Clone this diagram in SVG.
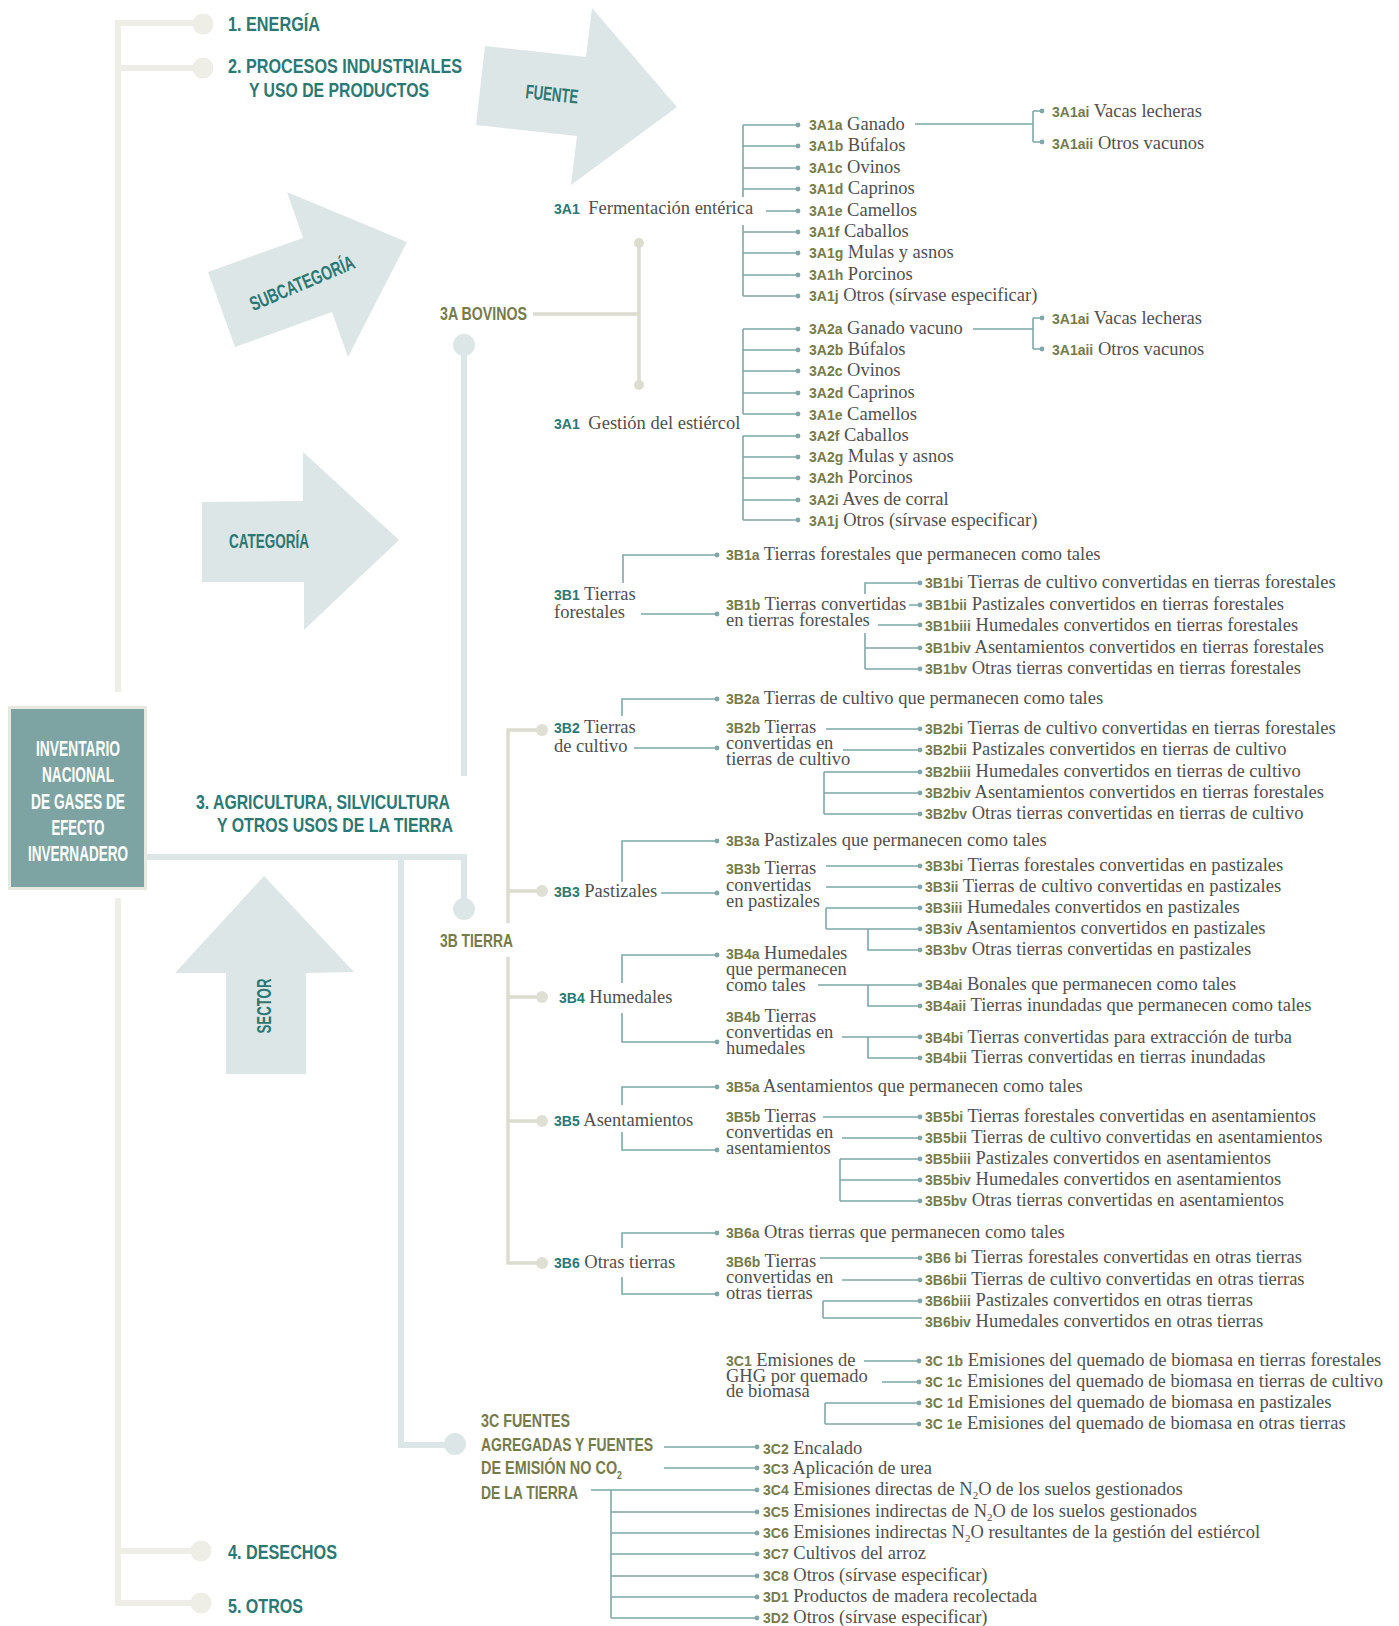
<svg xmlns="http://www.w3.org/2000/svg" width="1399" height="1626" viewBox="0 0 1399 1626">
<style>
.hd{font-family:'Liberation Sans Narrow','Liberation Sans',Arial,sans-serif;font-weight:bold;font-stretch:condensed}
.tl{fill:#2b7874}
.ol{fill:#767b4b}
.wh{fill:#ffffff}
.sr{font-family:'Liberation Serif','Times New Roman',serif;font-size:18.5px;fill:#505050}
.cd{font-family:'Liberation Sans',Arial,sans-serif;font-weight:bold;font-size:14px}
.k{stroke:#7fa7a8;stroke-width:1.6;fill:none}
.dt{fill:#7fa7a8}
.arw{fill:#dde6e6}
.spine{stroke:#eeeee7;stroke-width:6;fill:none}
.sec{stroke:#dde6e6;stroke-width:6;fill:none}
.bg{stroke:#dcdccf;stroke-width:3.5;fill:none}
</style>

<!-- arrows -->
<g id="arrow-fuente">
<polygon class="arw" points="485,46 586,57 592,8 677,107 571,185 577,136 476,125"/>
<text class="hd tl" font-size="20" transform="translate(552,94) rotate(6)" x="0" y="7" text-anchor="middle" textLength="53" lengthAdjust="spacingAndGlyphs">FUENTE</text>
</g>
<g id="arrow-subcategoria">
<polygon class="arw" points="208,272 303,238 287,192 407,242 348,357 332,312 235,347"/>
<text class="hd tl" font-size="20" transform="translate(302,283) rotate(-23)" x="0" y="7" text-anchor="middle" textLength="112" lengthAdjust="spacingAndGlyphs">SUBCATEGORÍA</text>
</g>
<g id="arrow-categoria">
<polygon class="arw" points="202,502 303,501 303,452 399,540 304,630 304,582 202,582"/>
<text class="hd tl" font-size="20" x="229" y="548" textLength="80" lengthAdjust="spacingAndGlyphs">CATEGORÍA</text>
</g>
<g id="arrow-sector">
<polygon class="arw" points="264,876 354,972 306,973 306,1074 226,1074 226,973 175,973"/>
<text class="hd tl" font-size="20" transform="translate(264,1006) rotate(-90)" x="0" y="7" text-anchor="middle" textLength="55" lengthAdjust="spacingAndGlyphs">SECTOR</text>
</g>

<!-- connectors -->
<g id="connectors">
<path class="spine" d="M203,23 H118 V692 M118,898 V1603 H201 M118,68 H203 M118,1551 H201"/>
<path class="sec" d="M147,857 H464 V909 M401,857 V1445 H455 M464,345 V776"/>
<path class="bg" d="M639,243 V385 M533,314 H639"/>
<path class="bg" d="M542,730 H508 V923 M508,957 V1263 H542 M508,891 H542 M508,997 H542 M508,1121 H542"/>

<path class="k" d="M743,125 V197 M743,125 H798 M743,146 H798 M743,168 H798 M743,189 H798 M766,211 H798 M743,225 V296 M743,232 H798 M743,253 H798 M743,275 H798 M743,296 H798"/>
<path class="k" d="M915,124 H1033 M1033,111 V142 M1033,111 H1042 M1033,142 H1042"/>
<path class="k" d="M743,329 V414 M743,329 H798 M743,350 H798 M743,371 H798 M743,393 H798 M743,414 H798 M743,436 V520 M743,436 H798 M743,457 H798 M743,478 H798 M743,500 H798 M743,520 H798"/>
<path class="k" d="M973,329 H1033 M1033,318 V349 M1033,318 H1042 M1033,349 H1042"/>
<path class="k" d="M623,583 V555 H717 M641,614 H717 M865,594 V583 H920 M909,605 H920 M878,625 H920 M865,633 V669 M865,648 H920 M865,669 H920"/>
<path class="k" d="M622,716 V699 H717 M634,748 H717 M826,729 H920 M843,750 H920 M824,772 V814 M824,772 H920 M824,793 H920 M824,814 H920"/>
<path class="k" d="M622,882 V841 H717 M661,893 H717 M826,866 H920 M826,887 H920 M826,908 V929 M826,908 H920 M826,929 H920 M868,929 V950 H920"/>
<path class="k" d="M622,983 V955 H717 M622,1013 V1042 H717 M818,985 H920 M868,985 V1006 H920 M842,1037 H920 M868,1037 V1058 H920"/>
<path class="k" d="M622,1105 V1087 H717 M622,1132 V1150 H717 M823,1117 H920 M842,1138 H920 M840,1159 V1201 M840,1159 H920 M840,1180 H920 M840,1201 H920"/>
<path class="k" d="M622,1248 V1233 H717 M622,1277 V1294 H717 M820,1258 H920 M842,1280 H920 M823,1301 V1318 M823,1301 H920 M823,1318 H922"/>
<path class="k" d="M864,1361 H919 M882,1382 H919 M825,1403 V1424 M825,1403 H919 M825,1424 H919"/>
<path class="k" d="M664,1447 H757 M664,1468 H757 M591,1490 H757 M611,1490 V1618 M611,1512 H757 M611,1533 H757 M611,1554 H757 M611,1576 H757 M611,1597 H757 M611,1618 H757"/>

<g class="dt">
<circle cx="798" cy="125" r="2.4"/><circle cx="798" cy="146" r="2.4"/><circle cx="798" cy="168" r="2.4"/><circle cx="798" cy="189" r="2.4"/><circle cx="798" cy="211" r="2.4"/><circle cx="798" cy="232" r="2.4"/><circle cx="798" cy="253" r="2.4"/><circle cx="798" cy="275" r="2.4"/><circle cx="798" cy="296" r="2.4"/>
<circle cx="1042" cy="111" r="2.4"/><circle cx="1042" cy="142" r="2.4"/><circle cx="1042" cy="318" r="2.4"/><circle cx="1042" cy="349" r="2.4"/>
<circle cx="798" cy="329" r="2.4"/><circle cx="798" cy="350" r="2.4"/><circle cx="798" cy="371" r="2.4"/><circle cx="798" cy="393" r="2.4"/><circle cx="798" cy="414" r="2.4"/><circle cx="798" cy="436" r="2.4"/><circle cx="798" cy="457" r="2.4"/><circle cx="798" cy="478" r="2.4"/><circle cx="798" cy="500" r="2.4"/><circle cx="798" cy="520" r="2.4"/>
<circle cx="717" cy="555" r="2.4"/><circle cx="717" cy="614" r="2.4"/><circle cx="920" cy="583" r="2.4"/><circle cx="920" cy="605" r="2.4"/><circle cx="920" cy="625" r="2.4"/><circle cx="920" cy="648" r="2.4"/><circle cx="920" cy="669" r="2.4"/>
<circle cx="717" cy="699" r="2.4"/><circle cx="717" cy="748" r="2.4"/><circle cx="920" cy="729" r="2.4"/><circle cx="920" cy="750" r="2.4"/><circle cx="920" cy="772" r="2.4"/><circle cx="920" cy="793" r="2.4"/><circle cx="920" cy="814" r="2.4"/>
<circle cx="717" cy="841" r="2.4"/><circle cx="717" cy="893" r="2.4"/><circle cx="920" cy="866" r="2.4"/><circle cx="920" cy="887" r="2.4"/><circle cx="920" cy="908" r="2.4"/><circle cx="920" cy="929" r="2.4"/><circle cx="920" cy="950" r="2.4"/>
<circle cx="717" cy="955" r="2.4"/><circle cx="717" cy="1042" r="2.4"/><circle cx="920" cy="985" r="2.4"/><circle cx="920" cy="1006" r="2.4"/><circle cx="920" cy="1037" r="2.4"/><circle cx="920" cy="1058" r="2.4"/>
<circle cx="717" cy="1087" r="2.4"/><circle cx="717" cy="1150" r="2.4"/><circle cx="920" cy="1117" r="2.4"/><circle cx="920" cy="1138" r="2.4"/><circle cx="920" cy="1159" r="2.4"/><circle cx="920" cy="1180" r="2.4"/><circle cx="920" cy="1201" r="2.4"/>
<circle cx="717" cy="1233" r="2.4"/><circle cx="717" cy="1294" r="2.4"/><circle cx="920" cy="1258" r="2.4"/><circle cx="920" cy="1280" r="2.4"/><circle cx="920" cy="1301" r="2.4"/>
<circle cx="919" cy="1361" r="2.4"/><circle cx="919" cy="1382" r="2.4"/><circle cx="919" cy="1403" r="2.4"/><circle cx="919" cy="1424" r="2.4"/>
<circle cx="757" cy="1447" r="2.4"/><circle cx="757" cy="1468" r="2.4"/><circle cx="757" cy="1490" r="2.4"/><circle cx="757" cy="1512" r="2.4"/><circle cx="757" cy="1533" r="2.4"/><circle cx="757" cy="1554" r="2.4"/><circle cx="757" cy="1576" r="2.4"/><circle cx="757" cy="1597" r="2.4"/><circle cx="757" cy="1618" r="2.4"/>
</g>
</g>

<!-- root -->
<g id="node-inventario">
<rect x="8" y="706" width="139" height="184" fill="#e7e8df"/>
<rect x="11" y="709" width="133" height="178" fill="#7ea3a3"/>
<g class="hd wh" font-size="22" text-anchor="middle">
<text x="78" y="756" textLength="84" lengthAdjust="spacingAndGlyphs">INVENTARIO</text>
<text x="78" y="782" textLength="72" lengthAdjust="spacingAndGlyphs">NACIONAL</text>
<text x="78" y="809" textLength="94" lengthAdjust="spacingAndGlyphs">DE GASES DE</text>
<text x="78" y="835" textLength="53" lengthAdjust="spacingAndGlyphs">EFECTO</text>
<text x="78" y="861" textLength="100" lengthAdjust="spacingAndGlyphs">INVERNADERO</text>
</g>
</g>

<!-- sectors -->
<g id="node-energia">
<circle cx="203" cy="24" r="10.5" fill="#eeeee7"/>
<text class="hd tl" font-size="20" x="228" y="31" textLength="92" lengthAdjust="spacingAndGlyphs">1. ENERGÍA</text>
</g>
<g id="node-procesos">
<circle cx="203" cy="68" r="10.5" fill="#eeeee7"/>
<text class="hd tl" font-size="20" x="228" y="73" textLength="234" lengthAdjust="spacingAndGlyphs">2. PROCESOS INDUSTRIALES</text>
<text class="hd tl" font-size="20" x="249" y="97" textLength="180" lengthAdjust="spacingAndGlyphs">Y USO DE PRODUCTOS</text>
</g>
<g id="node-agricultura">
<text class="hd tl" font-size="20" x="196" y="809" textLength="254" lengthAdjust="spacingAndGlyphs">3. AGRICULTURA, SILVICULTURA</text>
<text class="hd tl" font-size="20" x="217" y="832" textLength="236" lengthAdjust="spacingAndGlyphs">Y OTROS USOS DE LA TIERRA</text>
</g>
<g id="node-desechos">
<circle cx="201" cy="1551" r="10.5" fill="#eeeee7"/>
<text class="hd tl" font-size="20" x="228" y="1559" textLength="109" lengthAdjust="spacingAndGlyphs">4. DESECHOS</text>
</g>
<g id="node-otros">
<circle cx="201" cy="1603" r="10.5" fill="#eeeee7"/>
<text class="hd tl" font-size="20" x="228" y="1613" textLength="75" lengthAdjust="spacingAndGlyphs">5. OTROS</text>
</g>

<!-- categories -->
<g id="node-3a">
<circle cx="464" cy="345" r="11" fill="#dde6e6"/>
<circle cx="639" cy="243" r="5" fill="#dcdccf"/>
<circle cx="639" cy="385" r="5" fill="#dcdccf"/>
<text class="hd ol" font-size="19" x="440" y="320" textLength="87" lengthAdjust="spacingAndGlyphs">3A BOVINOS</text>
</g>
<g id="node-3b">
<circle cx="464" cy="909" r="11" fill="#dde6e6"/>
<text class="hd ol" font-size="19" x="440" y="947" textLength="73" lengthAdjust="spacingAndGlyphs">3B TIERRA</text>
<g fill="#dfdfd4"><circle cx="542" cy="730" r="6"/><circle cx="542" cy="891" r="6"/><circle cx="542" cy="997" r="6"/><circle cx="542" cy="1121" r="6"/><circle cx="542" cy="1263" r="6"/></g>
</g>
<g id="node-3c">
<circle cx="455" cy="1444" r="11" fill="#dde6e6"/>
<text class="hd ol" font-size="18" x="481" y="1427" textLength="89" lengthAdjust="spacingAndGlyphs">3C FUENTES</text>
<text class="hd ol" font-size="18" x="481" y="1451" textLength="172" lengthAdjust="spacingAndGlyphs">AGREGADAS Y FUENTES</text>
<text class="hd ol" font-size="18" x="481" y="1474" textLength="141" lengthAdjust="spacingAndGlyphs">DE EMISIÓN NO CO<tspan font-size="11" dy="5">2</tspan></text>
<text class="hd ol" font-size="18" x="481" y="1499" textLength="97" lengthAdjust="spacingAndGlyphs">DE LA TIERRA</text>
</g>

<!-- 3A subcategories -->
<g id="node-3a1-fermentacion"><text class="sr" x="554" y="214"><tspan class="cd tl">3A1</tspan><tspan dx="4"> Fermentación entérica</tspan></text></g>
<g id="node-3a1-gestion"><text class="sr" x="554" y="429"><tspan class="cd tl">3A1</tspan><tspan dx="4"> Gestión del estiércol</tspan></text></g>

<g id="node-3a1-items" class="sr">
<text x="809" y="130"><tspan class="cd ol">3A1a</tspan> Ganado</text>
<text x="809" y="151"><tspan class="cd ol">3A1b</tspan> Búfalos</text>
<text x="809" y="173"><tspan class="cd ol">3A1c</tspan> Ovinos</text>
<text x="809" y="194"><tspan class="cd ol">3A1d</tspan> Caprinos</text>
<text x="809" y="216"><tspan class="cd ol">3A1e</tspan> Camellos</text>
<text x="809" y="237"><tspan class="cd ol">3A1f</tspan> Caballos</text>
<text x="809" y="258"><tspan class="cd ol">3A1g</tspan> Mulas y asnos</text>
<text x="809" y="280"><tspan class="cd ol">3A1h</tspan> Porcinos</text>
<text x="809" y="301"><tspan class="cd ol">3A1j</tspan> Otros (sírvase especificar)</text>
<text x="1052" y="117"><tspan class="cd ol">3A1ai</tspan> Vacas lecheras</text>
<text x="1052" y="149"><tspan class="cd ol">3A1aii</tspan> Otros vacunos</text>
</g>
<g id="node-3a2-items" class="sr">
<text x="809" y="334"><tspan class="cd ol">3A2a</tspan> Ganado vacuno</text>
<text x="809" y="355"><tspan class="cd ol">3A2b</tspan> Búfalos</text>
<text x="809" y="376"><tspan class="cd ol">3A2c</tspan> Ovinos</text>
<text x="809" y="398"><tspan class="cd ol">3A2d</tspan> Caprinos</text>
<text x="809" y="420"><tspan class="cd ol">3A1e</tspan> Camellos</text>
<text x="809" y="441"><tspan class="cd ol">3A2f</tspan> Caballos</text>
<text x="809" y="462"><tspan class="cd ol">3A2g</tspan> Mulas y asnos</text>
<text x="809" y="483"><tspan class="cd ol">3A2h</tspan> Porcinos</text>
<text x="809" y="505"><tspan class="cd ol">3A2i</tspan> Aves de corral</text>
<text x="809" y="526"><tspan class="cd ol">3A1j</tspan> Otros (sírvase especificar)</text>
<text x="1052" y="324"><tspan class="cd ol">3A1ai</tspan> Vacas lecheras</text>
<text x="1052" y="355"><tspan class="cd ol">3A1aii</tspan> Otros vacunos</text>
</g>

<!-- 3B1 -->
<g id="node-3b1" class="sr">
<text x="554" y="600"><tspan class="cd tl">3B1</tspan> Tierras<tspan x="554" dy="18">forestales</tspan></text>
<text x="726" y="560"><tspan class="cd ol">3B1a</tspan> Tierras forestales que permanecen como tales</text>
<text x="726" y="610"><tspan class="cd ol">3B1b</tspan> Tierras convertidas<tspan x="726" dy="16">en tierras forestales</tspan></text>
<text x="925" y="588"><tspan class="cd ol">3B1bi</tspan> Tierras de cultivo convertidas en tierras forestales</text>
<text x="925" y="610"><tspan class="cd ol">3B1bii</tspan> Pastizales convertidos en tierras forestales</text>
<text x="925" y="631"><tspan class="cd ol">3B1biii</tspan> Humedales convertidos en tierras forestales</text>
<text x="925" y="653"><tspan class="cd ol">3B1biv</tspan> Asentamientos convertidos en tierras forestales</text>
<text x="925" y="674"><tspan class="cd ol">3B1bv</tspan> Otras tierras convertidas en tierras forestales</text>
</g>
<!-- 3B2 -->
<g id="node-3b2" class="sr">
<text x="554" y="733"><tspan class="cd tl">3B2</tspan> Tierras<tspan x="554" dy="19">de cultivo</tspan></text>
<text x="726" y="704"><tspan class="cd ol">3B2a</tspan> Tierras de cultivo que permanecen como tales</text>
<text x="726" y="733"><tspan class="cd ol">3B2b</tspan> Tierras<tspan x="726" dy="16">convertidas en</tspan><tspan x="726" dy="16">tierras de cultivo</tspan></text>
<text x="925" y="734"><tspan class="cd ol">3B2bi</tspan> Tierras de cultivo convertidas en tierras forestales</text>
<text x="925" y="755"><tspan class="cd ol">3B2bii</tspan> Pastizales convertidos en tierras de cultivo</text>
<text x="925" y="777"><tspan class="cd ol">3B2biii</tspan> Humedales convertidos en tierras de cultivo</text>
<text x="925" y="798"><tspan class="cd ol">3B2biv</tspan> Asentamientos convertidos en tierras forestales</text>
<text x="925" y="819"><tspan class="cd ol">3B2bv</tspan> Otras tierras convertidas en tierras de cultivo</text>
</g>
<!-- 3B3 -->
<g id="node-3b3" class="sr">
<text x="554" y="897"><tspan class="cd tl">3B3</tspan> Pastizales</text>
<text x="726" y="846"><tspan class="cd ol">3B3a</tspan> Pastizales que permanecen como tales</text>
<text x="726" y="874"><tspan class="cd ol">3B3b</tspan> Tierras<tspan x="726" dy="17">convertidas</tspan><tspan x="726" dy="16">en pastizales</tspan></text>
<text x="925" y="871"><tspan class="cd ol">3B3bi</tspan> Tierras forestales convertidas en pastizales</text>
<text x="925" y="892"><tspan class="cd ol">3B3ii</tspan> Tierras de cultivo convertidas en pastizales</text>
<text x="925" y="913"><tspan class="cd ol">3B3iii</tspan> Humedales convertidos en pastizales</text>
<text x="925" y="934"><tspan class="cd ol">3B3iv</tspan> Asentamientos convertidos en pastizales</text>
<text x="925" y="955"><tspan class="cd ol">3B3bv</tspan> Otras tierras convertidas en pastizales</text>
</g>
<!-- 3B4 -->
<g id="node-3b4" class="sr">
<text x="559" y="1003"><tspan class="cd tl">3B4</tspan> Humedales</text>
<text x="726" y="959"><tspan class="cd ol">3B4a</tspan> Humedales<tspan x="726" dy="16">que permanecen</tspan><tspan x="726" dy="16">como tales</tspan></text>
<text x="726" y="1022"><tspan class="cd ol">3B4b</tspan> Tierras<tspan x="726" dy="16">convertidas en</tspan><tspan x="726" dy="16">humedales</tspan></text>
<text x="925" y="990"><tspan class="cd ol">3B4ai</tspan> Bonales que permanecen como tales</text>
<text x="925" y="1011"><tspan class="cd ol">3B4aii</tspan> Tierras inundadas que permanecen como tales</text>
<text x="925" y="1043"><tspan class="cd ol">3B4bi</tspan> Tierras convertidas para extracción de turba</text>
<text x="925" y="1063"><tspan class="cd ol">3B4bii</tspan> Tierras convertidas en tierras inundadas</text>
</g>
<!-- 3B5 -->
<g id="node-3b5" class="sr">
<text x="554" y="1126"><tspan class="cd tl">3B5</tspan> Asentamientos</text>
<text x="726" y="1092"><tspan class="cd ol">3B5a</tspan> Asentamientos que permanecen como tales</text>
<text x="726" y="1122"><tspan class="cd ol">3B5b</tspan> Tierras<tspan x="726" dy="16">convertidas en</tspan><tspan x="726" dy="16">asentamientos</tspan></text>
<text x="925" y="1122"><tspan class="cd ol">3B5bi</tspan> Tierras forestales convertidas en asentamientos</text>
<text x="925" y="1143"><tspan class="cd ol">3B5bii</tspan> Tierras de cultivo convertidas en asentamientos</text>
<text x="925" y="1164"><tspan class="cd ol">3B5biii</tspan> Pastizales convertidos en asentamientos</text>
<text x="925" y="1185"><tspan class="cd ol">3B5biv</tspan> Humedales convertidos en asentamientos</text>
<text x="925" y="1206"><tspan class="cd ol">3B5bv</tspan> Otras tierras convertidas en asentamientos</text>
</g>
<!-- 3B6 -->
<g id="node-3b6" class="sr">
<text x="554" y="1268"><tspan class="cd tl">3B6</tspan> Otras tierras</text>
<text x="726" y="1238"><tspan class="cd ol">3B6a</tspan> Otras tierras que permanecen como tales</text>
<text x="726" y="1267"><tspan class="cd ol">3B6b</tspan> Tierras<tspan x="726" dy="16">convertidas en</tspan><tspan x="726" dy="16">otras tierras</tspan></text>
<text x="925" y="1263"><tspan class="cd ol">3B6 bi</tspan> Tierras forestales convertidas en otras tierras</text>
<text x="925" y="1285"><tspan class="cd ol">3B6bii</tspan> Tierras de cultivo convertidas en otras tierras</text>
<text x="925" y="1306"><tspan class="cd ol">3B6biii</tspan> Pastizales convertidos en otras tierras</text>
<text x="925" y="1327"><tspan class="cd ol">3B6biv</tspan> Humedales convertidos en otras tierras</text>
</g>
<!-- 3C -->
<g id="node-3c1" class="sr">
<text x="726" y="1366"><tspan class="cd ol">3C1</tspan> Emisiones de<tspan x="726" dy="16">GHG por quemado</tspan><tspan x="726" dy="15">de biomasa</tspan></text>
<text x="925" y="1366"><tspan class="cd ol">3C 1b</tspan> Emisiones del quemado de biomasa en tierras forestales</text>
<text x="925" y="1387"><tspan class="cd ol">3C 1c</tspan> Emisiones del quemado de biomasa en tierras de cultivo</text>
<text x="925" y="1408"><tspan class="cd ol">3C 1d</tspan> Emisiones del quemado de biomasa en pastizales</text>
<text x="925" y="1429"><tspan class="cd ol">3C 1e</tspan> Emisiones del quemado de biomasa en otras tierras</text>
</g>
<g id="node-3c-items" class="sr">
<text x="763" y="1454"><tspan class="cd ol">3C2</tspan> Encalado</text>
<text x="763" y="1474"><tspan class="cd ol">3C3</tspan> Aplicación de urea</text>
<text x="763" y="1495"><tspan class="cd ol">3C4</tspan> Emisiones directas de N<tspan font-size="11" dy="4">2</tspan><tspan dy="-4">O de los suelos gestionados</tspan></text>
<text x="763" y="1517"><tspan class="cd ol">3C5</tspan> Emisiones indirectas de N<tspan font-size="11" dy="4">2</tspan><tspan dy="-4">O de los suelos gestionados</tspan></text>
<text x="763" y="1538"><tspan class="cd ol">3C6</tspan> Emisiones indirectas N<tspan font-size="11" dy="4">2</tspan><tspan dy="-4">O resultantes de la gestión del estiércol</tspan></text>
<text x="763" y="1559"><tspan class="cd ol">3C7</tspan> Cultivos del arroz</text>
<text x="763" y="1581"><tspan class="cd ol">3C8</tspan> Otros (sírvase especificar)</text>
<text x="763" y="1602"><tspan class="cd ol">3D1</tspan> Productos de madera recolectada</text>
<text x="763" y="1623"><tspan class="cd ol">3D2</tspan> Otros (sírvase especificar)</text>
</g>
</svg>
